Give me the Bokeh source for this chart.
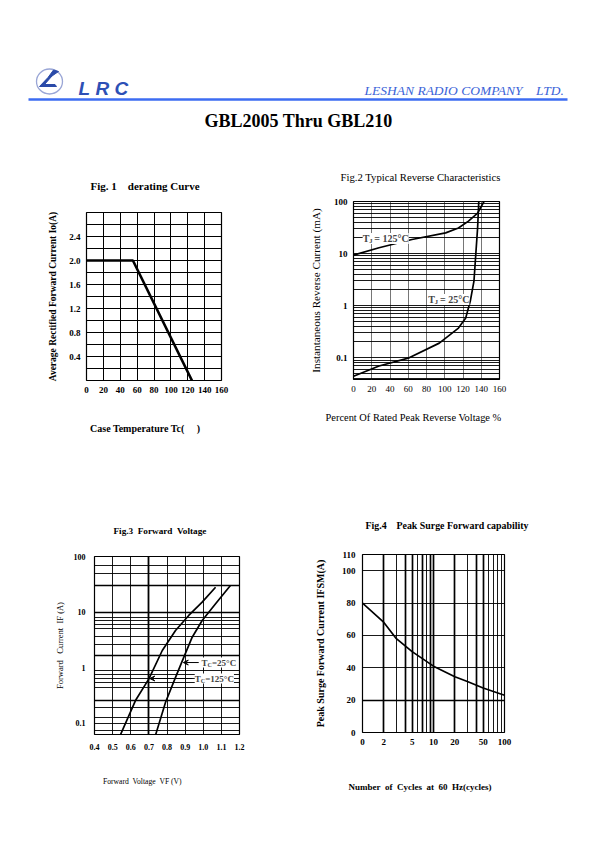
import math
from bokeh.plotting import figure
from bokeh.models import Range1d, FixedTicker, Label, Arrow, VeeHead, Grid
from bokeh.layouts import column, row
from bokeh.embed import file_html
from bokeh.resources import INLINE
from bokeh.core.properties import value

SERIF = "Liberation Serif"

# ---------------- data ----------------
# Fig. 1 derating curve
fig1_temp_c = [0, 55, 125]
fig1_current_a = [2.0, 2.0, 0.0]
fig1_xticks = [0, 20, 40, 60, 80, 100, 120, 140, 160]
fig1_yticks = [0.4, 0.8, 1.2, 1.6, 2.0, 2.4]
fig1_ytick_labels = ["0.4", "0.8", "1.2", "1.6", "2.0", "2.4"]

# Fig. 2 typical reverse characteristics
fig2_pct_125 = [0, 28, 64, 101, 115, 126, 136, 143]
fig2_ir_125 = [9.3, 12.9, 18.6, 25, 31, 42, 60, 100]
fig2_pct_25 = [0, 28, 61, 94, 115, 123, 128, 132, 134, 136, 137.3]
fig2_ir_25 = [0.044, 0.069, 0.099, 0.19, 0.37, 0.58, 1.22, 2.94, 9.6, 31, 100]
fig2_xticks = [0, 20, 40, 60, 80, 100, 120, 140, 160]
fig2_yticks = [0.1, 1, 10, 100]
fig2_ytick_labels = ["0.1", "1", "10", "100"]

# Fig. 3 forward voltage
fig3_vf_125 = [0.543, 0.626, 0.700, 0.774, 0.847, 0.920, 0.994, 1.068]
fig3_if_125 = [0.062, 0.257, 0.63, 2.04, 4.66, 8.7, 15.1, 28]
fig3_vf_25 = [0.737, 0.792, 0.847, 0.893, 0.939, 0.994, 1.068, 1.150]
fig3_if_25 = [0.062, 0.24, 0.67, 1.55, 3.54, 7.06, 14.1, 30]
fig3_xticks = [0.4, 0.5, 0.6, 0.7, 0.8, 0.9, 1.0, 1.1, 1.2]
fig3_xtick_labels = ["0.4", "0.5", "0.6", "0.7", "0.8", "0.9", "1.0", "1.1", "1.2"]
fig3_yticks = [0.1, 1, 10, 100]
fig3_ytick_labels = ["0.1", "1", "10", "100"]

# Fig. 4 peak surge forward capability
fig4_cycles = [1, 2, 3, 5, 10, 20, 30, 50, 100]
fig4_ifsm = [80, 68, 58, 50, 41, 34.5, 31.5, 27.5, 23]
fig4_xticks = [1, 2, 5, 10, 20, 50, 100]
fig4_xtick_labels = ["0", "2", "5", "10", "20", "50", "100"]
fig4_yticks = [0, 20, 40, 60, 80, 100, 110]
fig4_ytick_labels = ["0", "20", "40", "60", "80", "100", "110"]

NB = "\u00a0"


def make_fig(**kw):
    p = figure(output_backend="svg", toolbar_location=None, **kw)
    p.background_fill_color = "white"
    p.border_fill_color = "white"
    p.outline_line_color = "black"
    p.outline_line_width = 1.2
    return p


def style_axes(p, size, bold=True):
    for ax in p.axis:
        ax.axis_line_color = None
        ax.major_tick_line_color = None
        ax.minor_tick_line_color = None
        ax.major_label_text_font = SERIF
        ax.major_label_text_font_size = size
        ax.major_label_text_font_style = "bold" if bold else "normal"
        ax.major_label_text_color = "black"
        ax.axis_label_text_font = SERIF
        ax.axis_label_text_color = "black"


def style_title(p, size, bold=True, standoff=16, offset=0):
    p.title.text_font = SERIF
    p.title.text_font_size = size
    p.title.text_font_style = "bold" if bold else "normal"
    p.title.align = "left"
    p.title.standoff = standoff
    p.title.offset = offset
    p.title.text_color = "black"


def log_minor(lo_exp, hi_exp):
    vals = []
    for e in range(lo_exp, hi_exp):
        for k in range(1, 10):
            vals.append(k * 10 ** e)
    vals.append(10 ** hi_exp)
    return vals


# ---------------- header ----------------
hdr = make_fig(width=587, height=150, x_range=Range1d(-8, 579), y_range=Range1d(142, -8),
               min_border=0)
hdr.outline_line_color = None
hdr.axis.visible = False
hdr.grid.visible = False
hdr.ellipse(x=[41], y=[73], width=26, height=25, fill_color=None,
            line_color="#9aa6d6", line_width=1.3)
hdr.patch([31, 48, 46.5, 36, 43.5, 50, 45, 39.5], [78, 78, 76, 76, 67.5, 63, 61.5, 69],
          fill_color="#2a4aa8", line_color="#2a4aa8")
hdr.text(x=[70], y=[80], text=["L" + NB + "R" + NB + "C"], text_font=value("Liberation Sans"),
         text_font_style="bold italic", text_font_size="19px", text_color="#2d50b6",
         text_baseline="alphabetic")
hdr.text(x=[356], y=[82], text=["LESHAN" + NB + "RADIO" + NB + "COMPANY" + NB * 4 + "LTD."],
         text_font=value(SERIF), text_font_style="italic", text_font_size="13.5px",
         text_color="#3b64d8", text_baseline="alphabetic")
hdr.segment(x0=[20], y0=[91], x1=[559], y1=[91], line_color="#3d6cf2", line_width=2.6)
hdr.text(x=[290], y=[112], text=["GBL2005 Thru GBL210"], text_font=value(SERIF),
         text_font_style="bold", text_font_size="18px", text_color="black",
         text_align="center", text_baseline="middle")

# ---------------- Fig 1 ----------------
p1 = make_fig(x_range=Range1d(0, 160), y_range=Range1d(0, 2.8),
              frame_width=135, frame_height=168,
              min_border_left=86, min_border_right=76, min_border_top=62, min_border_bottom=80,
              title="Fig. 1" + NB * 4 + "derating Curve")
style_title(p1, "11px", True, standoff=42, offset=4)
style_axes(p1, "9px", True)
p1.xaxis.ticker = FixedTicker(ticks=fig1_xticks)
p1.yaxis.ticker = FixedTicker(ticks=fig1_yticks)
p1.yaxis.major_label_overrides = dict(zip(fig1_yticks, fig1_ytick_labels))
p1.xaxis.major_label_standoff = 0
p1.yaxis.major_label_standoff = 0
p1.xaxis.axis_label = "Case Temperature Tc(" + NB * 5 + ")" + NB * 7
p1.xaxis.axis_label_standoff = 27
p1.xaxis.axis_label_text_font_size = "10px"
p1.xaxis.axis_label_text_font_style = "bold"
p1.yaxis.axis_label = "Average Rectified Forward Current Io(A)"
p1.yaxis.axis_label_standoff = 8
p1.yaxis.axis_label_text_font_size = "9.5px"
p1.yaxis.axis_label_text_font_style = "bold"
p1.xgrid.ticker = FixedTicker(ticks=fig1_xticks)
p1.ygrid.ticker = FixedTicker(ticks=[round(0.2 * i, 1) for i in range(15)])
p1.grid.grid_line_color = "black"
p1.grid.grid_line_width = 1
p1.line(fig1_temp_c, fig1_current_a, line_color="black", line_width=2.6)

# ---------------- Fig 2 ----------------
p2 = make_fig(x_range=Range1d(0, 160), y_range=Range1d(0.038, 100), y_axis_type="log",
              frame_width=146, frame_height=178,
              min_border_left=56, min_border_right=88, min_border_top=49, min_border_bottom=83,
              title="Fig.2 Typical Reverse Characteristics")
style_title(p2, "10.7px", False, standoff=37, offset=-13)
style_axes(p2, "9px", False)
p2.yaxis.major_label_text_font_style = "bold"
p2.xaxis.ticker = FixedTicker(ticks=fig2_xticks)
p2.yaxis.ticker = FixedTicker(ticks=fig2_yticks)
p2.yaxis.major_label_overrides = dict(zip(fig2_yticks, fig2_ytick_labels))
p2.xaxis.major_label_standoff = 0
p2.yaxis.major_label_standoff = 0
p2.xaxis.axis_label = "Percent Of Rated Peak Reverse Voltage %" + NB * 10
p2.xaxis.axis_label_standoff = 17
p2.xaxis.axis_label_text_font_size = "10.4px"
p2.xaxis.axis_label_text_font_style = "normal"
p2.yaxis.axis_label = "Instantaneous Reverse Current (mA)"
p2.yaxis.axis_label_standoff = 9
p2.yaxis.axis_label_text_font_size = "11.2px"
p2.yaxis.axis_label_text_font_style = "normal"
p2.xgrid.ticker = FixedTicker(ticks=fig2_xticks)
p2.xgrid.grid_line_color = "#666666"
p2.xgrid.grid_line_width = 0.9
p2.ygrid.ticker = FixedTicker(ticks=log_minor(-2, 2))
p2.ygrid.grid_line_color = "black"
p2.ygrid.grid_line_width = 0.9
p2.line(fig2_pct_125, fig2_ir_125, line_color="black", line_width=1.7)
p2.line(fig2_pct_25, fig2_ir_25, line_color="black", line_width=1.7)
for (tx, ty, txt) in [(10, 19.5, "= 125°C"), (82, 1.31, "= 25°C")]:
    p2.add_layout(Label(x=tx, y=ty, text="T" + NB * 2 + txt, text_font=SERIF,
                        text_font_style="bold", text_font_size="10px", text_baseline="middle",
                        background_fill_color="white"))
    p2.add_layout(Label(x=tx, y=ty, x_offset=6.5, y_offset=-2.5, text="J", text_font=SERIF,
                        text_font_style="bold", text_font_size="6.5px", text_baseline="middle"))

# ---------------- Fig 3 ----------------
p3 = make_fig(x_range=Range1d(0.4, 1.2), y_range=Range1d(0.063, 100), y_axis_type="log",
              frame_width=145, frame_height=178,
              min_border_left=94, min_border_right=58, min_border_top=94, min_border_bottom=94,
              title="Fig.3" + NB * 2 + "Forward" + NB * 2 + "Voltage")
style_title(p3, "9.2px", True, standoff=42, offset=19)
style_axes(p3, "8px", True)
p3.xaxis.ticker = FixedTicker(ticks=fig3_xticks)
p3.xaxis.major_label_overrides = dict(zip(fig3_xticks, fig3_xtick_labels))
p3.yaxis.ticker = FixedTicker(ticks=fig3_yticks)
p3.yaxis.major_label_overrides = dict(zip(fig3_yticks, fig3_ytick_labels))
p3.xaxis.major_label_standoff = 3
p3.yaxis.major_label_standoff = 3
p3.xaxis.axis_label = "Forward" + NB * 2 + "Voltage" + NB * 2 + "VF (V)" + NB * 26
p3.xaxis.axis_label_standoff = 24
p3.xaxis.axis_label_text_font_size = "7.6px"
p3.xaxis.axis_label_text_font_style = "normal"
p3.yaxis.axis_label = "Forward" + NB * 3 + "Current" + NB * 2 + "IF (A)"
p3.yaxis.axis_label_standoff = 6
p3.yaxis.axis_label_text_font_size = "8.5px"
p3.yaxis.axis_label_text_font_style = "normal"
p3.xgrid.ticker = FixedTicker(ticks=fig3_xticks)
p3.ygrid.ticker = FixedTicker(ticks=[70, 50, 8, 7, 6, 5, 3.6, 2.6, 0.9, 0.75, 0.63, 0.55,
                                     0.45, 0.19, 0.13, 0.1, 0.075])
p3.grid.grid_line_color = "black"
p3.grid.grid_line_width = 0.9
p3.add_layout(Grid(dimension=0, ticker=FixedTicker(ticks=[0.7]), grid_line_color="black",
                   grid_line_width=1.8))
p3.add_layout(Grid(dimension=1, ticker=FixedTicker(ticks=[30, 9.9, 1.65, 0.26]),
                   grid_line_color="black", grid_line_width=1.6))
p3.line(fig3_vf_125, fig3_if_125, line_color="black", line_width=1.7)
p3.line(fig3_vf_25, fig3_if_25, line_color="black", line_width=1.7)
for (tx, ty, txt, ax0, ax1) in [(0.99, 1.24, "=25°C", 0.975, 0.89),
                                (0.953, 0.64, "=125°C", 0.94, 0.705)]:
    p3.add_layout(Label(x=tx, y=ty, text="T" + NB * 2 + txt, text_font=SERIF,
                        text_font_style="bold", text_font_size="9px", text_baseline="middle",
                        background_fill_color="white"))
    p3.add_layout(Label(x=tx, y=ty, x_offset=6, y_offset=-2.5, text="C", text_font=SERIF,
                        text_font_style="bold", text_font_size="6px", text_baseline="middle"))
    p3.add_layout(Arrow(end=VeeHead(size=5, fill_color="black", line_color="black", line_width=1),
                        x_start=ax0, y_start=ty, x_end=ax1, y_end=ty,
                        line_color="black", line_width=1))

# ---------------- Fig 4 ----------------
p4 = make_fig(x_range=Range1d(1, 100), y_range=Range1d(0, 110), x_axis_type="log",
              frame_width=142, frame_height=178,
              min_border_left=65, min_border_right=83, min_border_top=92, min_border_bottom=96,
              title="Fig.4" + NB * 4 + "Peak Surge Forward capability")
style_title(p4, "9.9px", True, standoff=47, offset=3)
style_axes(p4, "9px", True)
p4.xaxis.ticker = FixedTicker(ticks=fig4_xticks)
p4.xaxis.major_label_overrides = dict(zip(fig4_xticks, fig4_xtick_labels))
p4.yaxis.ticker = FixedTicker(ticks=fig4_yticks)
p4.yaxis.major_label_overrides = dict(zip(fig4_yticks, fig4_ytick_labels))
p4.xaxis.major_label_standoff = 0
p4.yaxis.major_label_standoff = 1
p4.xaxis.axis_label = (NB * 2).join(["Number", "of", "Cycles", "at", "60", "Hz(cycles)"]) + NB * 12
p4.xaxis.axis_label_standoff = 34
p4.xaxis.axis_label_text_font_size = "9px"
p4.xaxis.axis_label_text_font_style = "bold"
p4.yaxis.axis_label = "Peak Surge Forward Current IFSM(A)"
p4.yaxis.axis_label_standoff = 13
p4.yaxis.axis_label_text_font_size = "10px"
p4.yaxis.axis_label_text_font_style = "bold"
p4.xgrid.ticker = FixedTicker(ticks=[3, 6, 8, 30, 60, 70, 80, 90])
p4.ygrid.ticker = FixedTicker(ticks=[40, 60, 80, 100])
p4.grid.grid_line_color = "black"
p4.grid.grid_line_width = 0.9
p4.add_layout(Grid(dimension=0, ticker=FixedTicker(ticks=[2, 4, 5, 7, 9, 10, 20, 40, 50]),
                   grid_line_color="black", grid_line_width=1.7))
p4.add_layout(Grid(dimension=1, ticker=FixedTicker(ticks=[20]), grid_line_color="black",
                   grid_line_width=1.5))
p4.line(fig4_cycles, fig4_ifsm, line_color="black", line_width=1.7)

layout = column(hdr, row(column(p1), column(p2)), row(column(p3), column(p4)))
open("out.html", "w").write(file_html(layout, INLINE))
